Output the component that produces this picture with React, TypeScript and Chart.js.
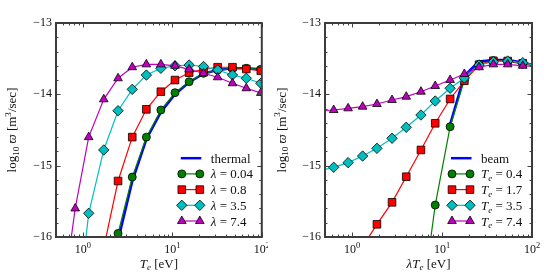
import React, { useEffect, useRef } from 'react';
import { Chart, registerables } from 'chart.js';

Chart.register(...registerables);

const FONT = "'Liberation Serif', 'DejaVu Serif', serif";

// ---------- Left panel: log10 rate vs Te ----------
const teX = [0.57, 0.82, 1.16, 1.71, 2.47, 3.56, 5.12, 7.44, 10.7, 15.4, 22.3, 32.1, 47.0, 67.1, 97.5];
const thermal = [null, null, null, -16.9, -16.05, -15.22, -14.63, -14.25, -14.0, -13.83, -13.71, -13.66, -13.635, -13.635, -13.65];
const lam004 = [null, null, null, -16.8, -15.95, -15.16, -14.6, -14.22, -13.977, -13.823, -13.705, -13.66, -13.635, -13.635, -13.65];
const lam08 = [null, null, null, -16.15, -15.215, -14.6, -14.21, -13.963, -13.8, -13.697, -13.65, -13.62, -13.62, -13.645, -13.67];
const lam35 = [null, -17.35, -15.668, -14.78, -14.23, -13.93, -13.73, -13.635, -13.6, -13.589, -13.61, -13.659, -13.729, -13.775, -13.845];
const lam74 = [-17.05, -15.6, -14.6, -14.07, -13.775, -13.62, -13.58, -13.58, -13.6, -13.65, -13.705, -13.761, -13.845, -13.915, -13.98];

// ---------- Right panel: log10 rate vs lambda*Te ----------
const ltX = [0.43, 0.625, 0.903, 1.31, 1.89, 2.78, 4.0, 5.83, 8.4, 12.3, 17.7, 25.8, 37.2, 53.7, 78.9, 114];
const beam = [null, null, null, null, null, null, null, null, null, -14.42, -13.74, -13.54, -13.52, -13.52, -13.555, -13.6];
const te04 = [null, null, null, null, null, null, null, -17.04, -15.552, -14.454, -13.8, -13.58, -13.53, -13.54, -13.575, -13.6];
const te17 = [null, null, null, -16.13, -15.822, -15.514, -15.155, -14.78, -14.406, -14.065, -13.81, -13.585, -13.53, -13.533, -13.565, -13.6];
const te35 = [-15.07, -15.023, -14.958, -14.865, -14.757, -14.616, -14.462, -14.29, -14.094, -13.915, -13.77, -13.589, -13.543, -13.533, -13.557, -13.6];
const te74 = [-14.23, -14.22, -14.196, -14.173, -14.136, -14.08, -14.033, -13.963, -13.883, -13.799, -13.715, -13.62, -13.58, -13.58, -13.6, -13.61];

const xMajor = [1, 10, 100];
const yMajor = [-16, -15, -14, -13];

type Part = { t: string; it?: boolean; sub?: boolean; sup?: boolean };

const BLUE = '#0000ff';
const GREEN = '#008000';
const RED = '#ff0000';
const CYAN = '#00bfbf';
const MAGENTA = '#bf00bf';

type Series = {
  label: Part[];
  xs: number[];
  ys: (number | null)[];
  color: string;
  marker?: string;
  r?: number;
  order: number;
};

const leftSeries: Series[] = [
  { label: [{ t: 'thermal' }], xs: teX, ys: thermal, color: BLUE, order: 5 },
  { label: [{ t: 'λ', it: true }, { t: ' = 0.04' }], xs: teX, ys: lam004, color: GREEN, marker: 'circle', r: 4, order: 4 },
  { label: [{ t: 'λ', it: true }, { t: ' = 0.8' }], xs: teX, ys: lam08, color: RED, marker: 'rect', r: 5.4, order: 3 },
  { label: [{ t: 'λ', it: true }, { t: ' = 3.5' }], xs: teX, ys: lam35, color: CYAN, marker: 'rectRot', r: 5.2, order: 2 },
  { label: [{ t: 'λ', it: true }, { t: ' = 7.4' }], xs: teX, ys: lam74, color: MAGENTA, marker: 'triangle', r: 5, order: 1 },
];

const rightSeries: Series[] = [
  { label: [{ t: 'beam' }], xs: ltX, ys: beam, color: BLUE, order: 5 },
  { label: [{ t: 'T', it: true }, { t: 'e', it: true, sub: true }, { t: ' = 0.4' }], xs: ltX, ys: te04, color: GREEN, marker: 'circle', r: 4, order: 4 },
  { label: [{ t: 'T', it: true }, { t: 'e', it: true, sub: true }, { t: ' = 1.7' }], xs: ltX, ys: te17, color: RED, marker: 'rect', r: 5.4, order: 3 },
  { label: [{ t: 'T', it: true }, { t: 'e', it: true, sub: true }, { t: ' = 3.5' }], xs: ltX, ys: te35, color: CYAN, marker: 'rectRot', r: 5.2, order: 2 },
  { label: [{ t: 'T', it: true }, { t: 'e', it: true, sub: true }, { t: ' = 7.4' }], xs: ltX, ys: te74, color: MAGENTA, marker: 'triangle', r: 5, order: 1 },
];

const yTitle: Part[] = [
  { t: 'log' }, { t: '10', sub: true }, { t: ' ' }, { t: 'ϖ', it: true }, { t: ' [m' }, { t: '3', sup: true }, { t: '/sec]' },
];

function setFont(ctx: CanvasRenderingContext2D, size: number, italic?: boolean) {
  ctx.font = `${italic ? 'italic ' : ''}${size}px ${FONT}`;
}

function richWidth(ctx: CanvasRenderingContext2D, parts: Part[], size: number) {
  let w = 0;
  for (const p of parts) {
    setFont(ctx, p.sub || p.sup ? size * 0.7 : size, p.it);
    w += ctx.measureText(p.t).width;
  }
  return w;
}

function drawRich(ctx: CanvasRenderingContext2D, parts: Part[], x: number, y: number, size: number, align: string) {
  const w = richWidth(ctx, parts, size);
  let cx = align === 'center' ? x - w / 2 : align === 'right' ? x - w : x;
  ctx.textAlign = 'left';
  ctx.textBaseline = 'alphabetic';
  for (const p of parts) {
    const s = p.sub || p.sup ? size * 0.7 : size;
    setFont(ctx, s, p.it);
    const dy = p.sub ? size * 0.22 : p.sup ? -size * 0.4 : 0;
    ctx.fillText(p.t, cx, y + dy);
    cx += ctx.measureText(p.t).width;
  }
}

function drawMarker(ctx: CanvasRenderingContext2D, style: string, x: number, y: number, r: number, fill: string) {
  ctx.beginPath();
  if (style === 'circle') {
    ctx.arc(x, y, r, 0, Math.PI * 2);
  } else if (style === 'rect') {
    const s = r * Math.SQRT1_2;
    ctx.rect(x - s, y - s, 2 * s, 2 * s);
  } else if (style === 'rectRot') {
    ctx.moveTo(x - r, y);
    ctx.lineTo(x, y - r);
    ctx.lineTo(x + r, y);
    ctx.lineTo(x, y + r);
    ctx.closePath();
  } else {
    let rad = 0;
    ctx.moveTo(x + Math.sin(rad) * r, y - Math.cos(rad) * r);
    rad += (2 * Math.PI) / 3;
    ctx.lineTo(x + Math.sin(rad) * r, y - Math.cos(rad) * r);
    rad += (2 * Math.PI) / 3;
    ctx.lineTo(x + Math.sin(rad) * r, y - Math.cos(rad) * r);
    ctx.closePath();
  }
  ctx.fillStyle = fill;
  ctx.fill();
  ctx.strokeStyle = '#000';
  ctx.lineWidth = 0.8;
  ctx.stroke();
}

type PanelCfg = {
  series: Series[];
  xTitle: Part[];
  yTitleX: number;
  yWidth: number;
  padRight: number;
};

function makeDecor(cfg: PanelCfg) {
  return {
    id: 'decor',
    afterDraw(chart: any) {
      const ctx: CanvasRenderingContext2D = chart.ctx;
      const a = chart.chartArea;
      const xs = chart.scales.x;
      const ys = chart.scales.y;
      ctx.save();
      const seg = (x1: number, y1: number, x2: number, y2: number) => {
        ctx.beginPath();
        ctx.moveTo(x1, y1);
        ctx.lineTo(x2, y2);
        ctx.stroke();
      };
      ctx.strokeStyle = '#444';
      ctx.lineWidth = 1;
      // x ticks (log), inward on bottom and top
      const xMinor: number[] = [];
      for (const d of [0.1, 1, 10]) for (let k = 2; k <= 9; k++) {
        const v = k * d;
        if (v >= 0.5 && v <= 100) xMinor.push(v);
      }
      const xt = (v: number, len: number) => {
        const px = Math.round(xs.getPixelForValue(v)) + 0.5;
        seg(px, a.bottom, px, a.bottom - len);
        seg(px, a.top, px, a.top + len);
      };
      xMinor.forEach((v) => xt(v, 2.5));
      xMajor.forEach((v) => xt(v, 4.5));
      // y ticks, inward on left and right
      const yt = (v: number, len: number) => {
        const py = Math.round(ys.getPixelForValue(v)) + 0.5;
        seg(a.left, py, a.left + len, py);
        seg(a.right, py, a.right - len, py);
      };
      for (let i = 0; i <= 15; i++) {
        if (i % 5 !== 0) yt(-16 + i * 0.2, 2.5);
      }
      yMajor.forEach((v) => yt(v, 4.5));
      // frame
      ctx.strokeStyle = '#3c3c3c';
      ctx.lineWidth = 2;
      ctx.strokeRect(a.left, a.top, a.right - a.left, a.bottom - a.top);
      // x tick labels 10^n
      ctx.fillStyle = '#111';
      xMajor.forEach((v) => {
        const e = Math.round(Math.log10(v));
        drawRich(ctx, [{ t: '10' }, { t: String(e), sup: true }], xs.getPixelForValue(v), 253, 12, 'center');
      });
      // x title
      drawRich(ctx, cfg.xTitle, (a.left + a.right) / 2, 267.5, 13, 'center');
      // y title
      ctx.save();
      ctx.translate(cfg.yTitleX, (a.top + a.bottom) / 2);
      ctx.rotate(-Math.PI / 2);
      drawRich(ctx, yTitle, 0, 3.5, 13, 'center');
      ctx.restore();
      // legend (lower right, no frame)
      const n = cfg.series.length;
      cfg.series.forEach((s, i) => {
        const cy = a.bottom - 16 - (n - 1 - i) * 15.7;
        const tx = a.right - 51;
        const m1 = a.right - 80;
        const m2 = a.right - 62;
        ctx.strokeStyle = s.color;
        ctx.lineWidth = s.marker ? 1.2 : 2.5;
        ctx.beginPath();
        ctx.moveTo(s.marker ? m1 : m1 - 1, cy);
        ctx.lineTo(s.marker ? m2 : m2 + 1.5, cy);
        ctx.stroke();
        if (s.marker) {
          drawMarker(ctx, s.marker, m1, cy, s.r || 4, s.color);
          drawMarker(ctx, s.marker, m2, cy, s.r || 4, s.color);
        }
        ctx.fillStyle = '#111';
        drawRich(ctx, s.label, tx, cy + 4.5, 13, 'left');
      });
      ctx.restore();
    },
  };
}

function Panel({ left, width, cfg }: { left: number; width: number; cfg: PanelCfg }) {
  const ref = useRef<HTMLCanvasElement | null>(null);
  useEffect(() => {
    if (!ref.current) return;
    const datasets = cfg.series.map((s) => {
      const pts: { x: number; y: number }[] = [];
      s.xs.forEach((x, i) => {
        const y = s.ys[i];
        if (y !== null && y !== undefined) pts.push({ x, y });
      });
      return {
        label: s.label.map((p) => p.t).join(''),
        data: pts,
        borderColor: s.color,
        backgroundColor: s.color,
        borderWidth: s.marker ? 1.2 : 2.5,
        pointStyle: s.marker || 'circle',
        pointRadius: s.marker ? s.r : 0,
        pointBackgroundColor: s.color,
        pointBorderColor: '#000',
        pointBorderWidth: 0.8,
        fill: false,
        tension: 0,
        order: s.order,
      };
    });
    const chart = new Chart(ref.current, {
      type: 'line',
      data: { datasets: datasets as any },
      options: {
        animation: false,
        responsive: false,
        maintainAspectRatio: false,
        events: [],
        layout: { padding: { top: 23, right: cfg.padRight, left: 0, bottom: 0 } },
        plugins: { legend: { display: false }, tooltip: { enabled: false } },
        scales: {
          x: {
            type: 'logarithmic',
            min: 0.5,
            max: 100,
            grid: { display: false, drawTicks: false },
            border: { display: false },
            ticks: { display: false },
            afterFit: (s: any) => {
              s.height = 43;
            },
          },
          y: {
            type: 'linear',
            min: -16,
            max: -13,
            grid: { display: false, drawTicks: false },
            border: { display: false },
            ticks: {
              stepSize: 1,
              padding: 4,
              color: '#111',
              font: { family: FONT, size: 12 },
              callback: (v: any) => (Number(v) < 0 ? '\u2212' + Math.abs(Number(v)) : String(v)),
            },
            afterFit: (s: any) => {
              s.width = cfg.yWidth;
            },
          },
        },
      } as any,
      plugins: [makeDecor(cfg)],
    });
    return () => chart.destroy();
  }, []);
  return (
    <canvas
      ref={ref}
      width={width}
      height={280}
      style={{ position: 'absolute', left, top: 0, width, height: 280 }}
    />
  );
}

const leftCfg: PanelCfg = {
  series: leftSeries,
  xTitle: [{ t: 'T', it: true }, { t: 'e', it: true, sub: true }, { t: ' [eV]' }],
  yTitleX: 12.5,
  yWidth: 56,
  padRight: 5,
};

const rightCfg: PanelCfg = {
  series: rightSeries,
  xTitle: [{ t: 'λT', it: true }, { t: 'e', it: true, sub: true }, { t: ' [eV]' }],
  yTitleX: 14,
  yWidth: 57,
  padRight: 28,
};

export default function App() {
  return (
    <div style={{ position: 'fixed', left: 0, top: 0, width: 560, height: 280, background: '#fff' }}>
      <Panel left={0} width={268} cfg={leftCfg} />
      <Panel left={268} width={292} cfg={rightCfg} />
    </div>
  );
}
